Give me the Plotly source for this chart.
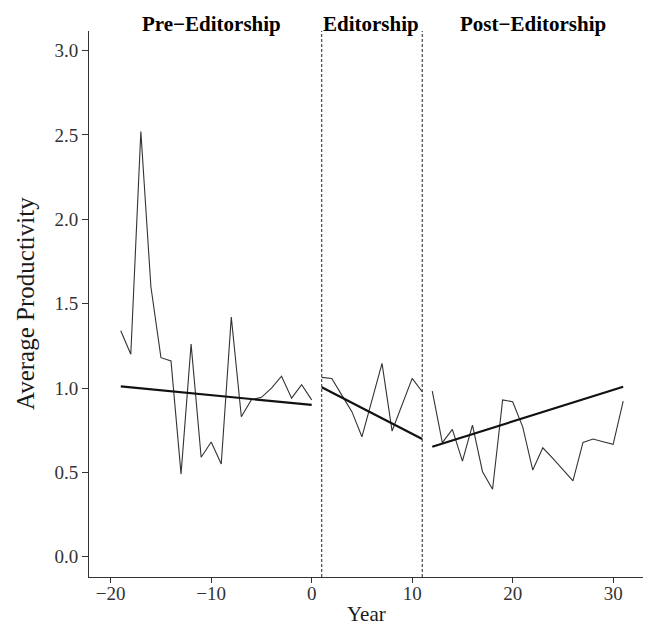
import plotly.graph_objects as go

# ---- data ----
pre_years = list(range(-19, 1))
pre_vals = [1.34, 1.20, 2.52, 1.60, 1.18, 1.16, 0.49, 1.26, 0.59, 0.68,
            0.55, 1.42, 0.83, 0.93, 0.945, 1.00, 1.07, 0.94, 1.02, 0.93]
ed_years = list(range(1, 12))
ed_vals = [1.063, 1.057, 0.958, 0.86, 0.711, 0.93, 1.146, 0.745, 0.90, 1.057, 0.978]
post_years = list(range(12, 32))
post_vals = [0.982, 0.676, 0.755, 0.567, 0.78, 0.504, 0.40, 0.929, 0.919, 0.77,
             0.514, 0.646, 0.583, 0.518, 0.45, 0.678, 0.698, 0.682, 0.666, 0.923]

pre_fit_x, pre_fit_y = [-19, 0], [1.01, 0.90]
ed_fit_x, ed_fit_y = [1, 11], [1.004, 0.698]
post_fit_x, post_fit_y = [12, 31], [0.652, 1.008]

boundaries = [1, 11]
phase_labels = ["Pre\u2212Editorship", "Editorship", "Post\u2212Editorship"]
phase_label_x = [-10.0, 5.9, 22.0]

x_ticks = [-20, -10, 0, 10, 20, 30]
y_ticks = [0.0, 0.5, 1.0, 1.5, 2.0, 2.5, 3.0]
y_tick_text = ["0.0", "0.5", "1.0", "1.5", "2.0", "2.5", "3.0"]

FONT = "Liberation Serif"
fig = go.Figure()

for xs, ys in [(pre_years, pre_vals), (ed_years, ed_vals), (post_years, post_vals)]:
    fig.add_trace(go.Scatter(x=xs, y=ys, mode="lines",
                             line=dict(color="#333333", width=1.1), showlegend=False))
for xs, ys in [(pre_fit_x, pre_fit_y), (ed_fit_x, ed_fit_y), (post_fit_x, post_fit_y)]:
    fig.add_trace(go.Scatter(x=xs, y=ys, mode="lines",
                             line=dict(color="#111111", width=2.2), showlegend=False))

for b in boundaries:
    fig.add_shape(type="line", xref="x", yref="paper", x0=b, x1=b, y0=0, y1=1,
                  line=dict(color="#222222", width=1, dash="3px,2px"))

for lab, lx in zip(phase_labels, phase_label_x):
    fig.add_annotation(x=lx, y=1.0128, xref="x", yref="paper", text="<b>%s</b>" % lab,
                       showarrow=False, yanchor="middle", xanchor="center",
                       font=dict(family=FONT, size=21, color="#000000"))

fig.add_annotation(x=(25 - 89) / 554, y=0.5, xref="paper", yref="paper",
                   text="Average Productivity", textangle=-90, showarrow=False,
                   xanchor="center", yanchor="middle",
                   font=dict(family=FONT, size=25, color="#1a1a1a"))
fig.add_annotation(x=0.5, y=(577 - 614) / 546, xref="paper", yref="paper",
                   text="Year", showarrow=False, xanchor="center", yanchor="middle",
                   font=dict(family=FONT, size=21, color="#1a1a1a"))

# page body has an 8px default margin, so the figure is offset by 8px
fig.update_layout(
    width=647, height=619,
    margin=dict(l=81, r=12, t=23, b=50),
    paper_bgcolor="white", plot_bgcolor="white",
    xaxis=dict(range=[-22.16, 32.97], tickvals=x_ticks, showgrid=False, zeroline=False,
               showline=True, linecolor="#333333", linewidth=1,
               ticks="outside", ticklen=5, tickcolor="#333333", tickwidth=1,
               ticklabelstandoff=-6,
               tickfont=dict(family=FONT, size=19, color="#333333")),
    yaxis=dict(range=[-0.120, 3.116], tickvals=y_ticks, ticktext=y_tick_text,
               showgrid=False, zeroline=False,
               showline=True, linecolor="#333333", linewidth=1,
               ticks="outside", ticklen=6, tickcolor="#333333", tickwidth=1,
               tickfont=dict(family=FONT, size=19, color="#333333")),
)

fig.write_html("out.html")
